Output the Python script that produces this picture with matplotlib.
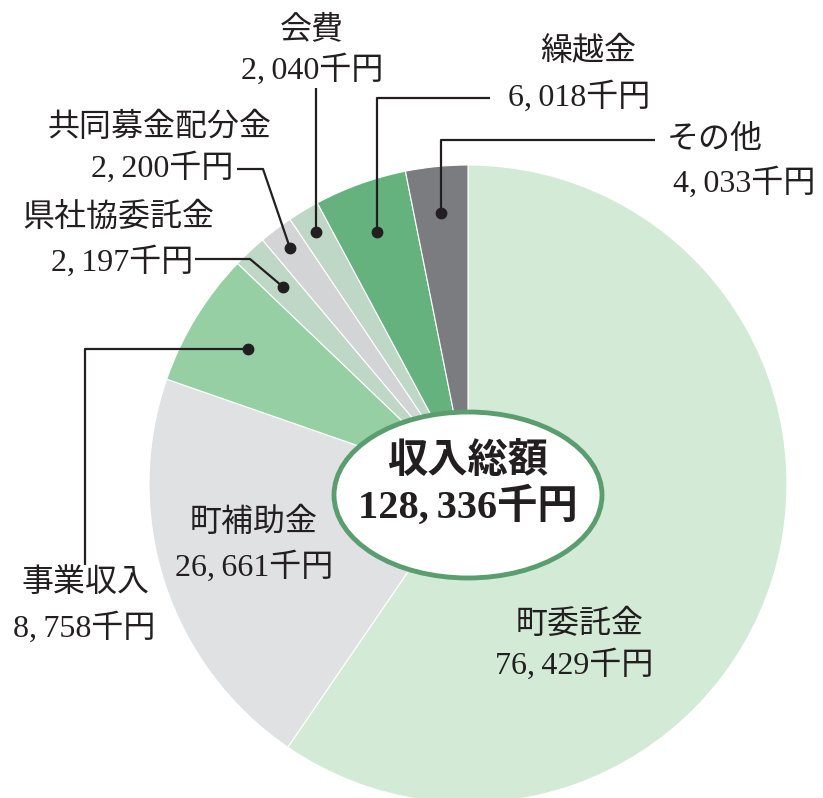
import matplotlib.pyplot as plt
import numpy as np
from matplotlib.patches import Ellipse

# 収入の内訳 (千円)
names = ["町委託金", "町補助金", "事業収入", "県社協委託金",
         "共同募金配分金", "会費", "繰越金", "その他"]
values = [76429, 26661, 8758, 2197, 2200, 2040, 6018, 4033]
colors = ["#d3ead6", "#e0e1e3", "#96cfa3", "#bfd7c6",
          "#d3d4d6", "#bfd7c6", "#66b27f", "#7b7c80"]
total_title = "収入総額"

FONT = ["Liberation Serif", "Noto Sans CJK JP"]
plt.rcParams["font.family"] = FONT

def fmt(v):
    # 元の図はカンマの後ろが少し空いている
    return f"{v:,}".replace(",", ",\u2009") + "千円"

fig = plt.figure(figsize=(8.23, 7.98), dpi=100)
ax = fig.add_axes([0, 0, 1, 1])

cx, cy, R = 468, 484, 319
# y軸を反転するので、見た目で時計回りにするには counterclock=True
wedges, _ = ax.pie(values, colors=colors, startangle=-90, counterclock=True,
                   center=(cx, cy), radius=R,
                   wedgeprops=dict(edgecolor="white", linewidth=0.8))
ax.set_xlim(0, 823)
ax.set_ylim(798, 0)
ax.set_aspect("auto")
ax.axis("off")

def dot_pos(i, r):
    w = wedges[i]
    a = np.deg2rad((w.theta1 + w.theta2) / 2)
    return cx + r * np.cos(a), cy + r * np.sin(a)

# ラベル位置: (名前のxy, 金額のxy, 揃え, 引出線の折れ点, 点の半径)
# 折れ点の None は点の座標をそのまま使う
layout = {
    "町委託金": ((580, 625), (574, 665), "center", None, None),
    "町補助金": ((254, 523), (254, 567), "center", None, None),
    "事業収入": ((85, 583), (84, 628), "center", [(85, None), (85, 565)], 258),
    "県社協委託金": ((118, 218), (193, 262), "right", [(250, 259), (195, 259)], 270),
    "共同募金配分金": ((160, 128), (233, 168), "right", [(263, 169), (237, 169)], 296),
    "会費": ((312, 30), (312, 70), "center", [(None, 88)], 294),
    "繰越金": ((588, 52), (650, 97), "right", [(None, 98), (490, 98)], 268),
    "その他": ((715, 140), (815, 183), "right", [(None, 140), (655, 140)], 272),
}

for i, (name, val) in enumerate(zip(names, values)):
    pn, pv, ha, path, r = layout[name]
    ax.text(pn[0], pn[1], name, ha="center", va="center", fontsize=23, color="#231f20")
    ax.text(pv[0], pv[1], fmt(val), ha=ha, va="center", fontsize=23, color="#231f20")
    if path is None:
        continue
    dx, dy = dot_pos(i, r)
    xs = [dx] + [dx if px is None else px for px, py in path]
    ys = [dy] + [dy if py is None else py for px, py in path]
    ax.plot(xs, ys, color="#231f20", linewidth=1.6, solid_capstyle="butt")
    ax.plot(dx, dy, "o", color="#231f20", markersize=7.5)

ell = Ellipse((468, 495), 268, 166, facecolor="white", edgecolor="#5a9e6f",
              linewidth=3.5, zorder=5)
ax.add_patch(ell)
ax.text(468, 462, total_title, ha="center", va="center", fontsize=29,
        fontweight="bold", color="#231f20", zorder=6)
ax.text(468, 507, fmt(sum(values)), ha="center", va="center", fontsize=29,
        fontweight="bold", color="#231f20", zorder=6)

fig.savefig("out.png", dpi=100)
